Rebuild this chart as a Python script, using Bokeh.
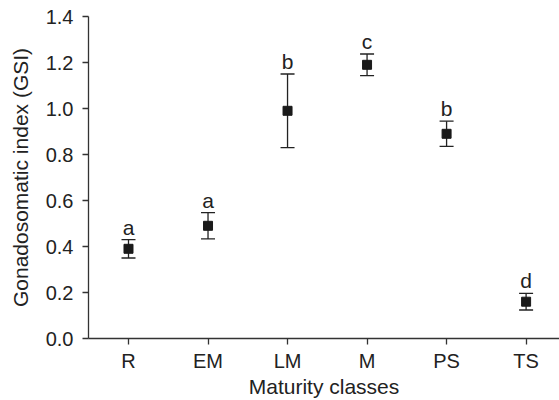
from bokeh.plotting import figure
from bokeh.models import ColumnDataSource, Range1d, FixedTicker, Whisker, TeeHead
from bokeh.core.properties import value
from bokeh.embed import file_html
from bokeh.resources import INLINE

categories = ["R", "EM", "LM", "M", "PS", "TS"]
gsi_mean = [0.39, 0.49, 0.99, 1.19, 0.89, 0.16]
gsi_err = [0.04, 0.057, 0.16, 0.047, 0.055, 0.036]
letters = ["a", "a", "b", "c", "b", "d"]
y_ticks = [0.0, 0.2, 0.4, 0.6, 0.8, 1.0, 1.2, 1.4]

xpos = list(range(1, len(categories) + 1))
src = ColumnDataSource(dict(
    x=xpos,
    y=gsi_mean,
    upper=[m + e for m, e in zip(gsi_mean, gsi_err)],
    lower=[m - e for m, e in zip(gsi_mean, gsi_err)],
    lab=letters,
))

FONT = "Liberation Sans"
INK = "#222222"

p = figure(width=559, height=400, output_backend="svg", toolbar_location=None,
           x_range=Range1d(0.497, 6.42), y_range=Range1d(0, 1.4),
           min_border_left=88, min_border_right=0, min_border_top=16, min_border_bottom=62)
p.outline_line_color = None
p.xgrid.visible = False
p.ygrid.visible = False

p.xaxis.ticker = FixedTicker(ticks=xpos)
p.xaxis.major_label_overrides = {i: c for i, c in zip(xpos, categories)}
p.yaxis.ticker = FixedTicker(ticks=y_ticks)
p.yaxis.major_label_overrides = {t: f"{t:.1f}" for t in y_ticks}

for ax in (p.xaxis[0], p.yaxis[0]):
    ax.axis_line_color = "#333333"
    ax.axis_line_width = 1.3
    ax.major_tick_line_color = "#333333"
    ax.major_tick_line_width = 1.3
    ax.major_tick_in = 0
    ax.major_tick_out = 6
    ax.minor_tick_line_color = None
    ax.major_label_text_font = FONT
    ax.major_label_text_font_size = "20px"
    ax.major_label_text_color = INK
    ax.axis_label_text_font = FONT
    ax.axis_label_text_font_size = "21px"
    ax.axis_label_text_font_style = "normal"
    ax.axis_label_text_color = INK

p.xaxis.major_label_standoff = 5
p.yaxis.major_label_standoff = 9
p.xaxis.axis_label = "Maturity classes"
p.yaxis.axis_label = "Gonadosomatic index (GSI)"
p.xaxis.axis_label_standoff = 0
p.yaxis.axis_label_standoff = 11

w = Whisker(source=src, base="x", upper="upper", lower="lower",
            line_color="#222222", line_width=1.3,
            upper_head=TeeHead(size=14, line_color="#222222", line_width=1.3),
            lower_head=TeeHead(size=14, line_color="#222222", line_width=1.3))
p.add_layout(w)

p.scatter(x="x", y="y", source=src, marker="square", size=9,
          fill_color="#1a1a1a", line_color="#1a1a1a")

p.text(x="x", y="upper", text="lab", source=src, text_font=value(FONT),
       text_font_size="21px", text_color=INK, text_align="center",
       text_baseline="bottom", y_offset=-1)

open("out.html", "w").write(file_html(p, INLINE))
